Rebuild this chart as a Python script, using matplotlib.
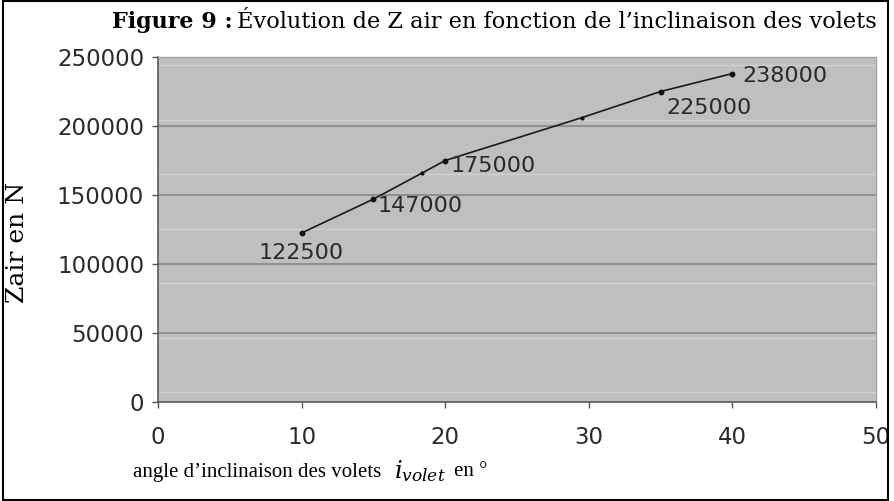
import matplotlib
matplotlib.use('Agg')
import matplotlib.pyplot as plt
from matplotlib.patches import Rectangle
import numpy as np

# data
angles = [10, 15, 18.4, 20, 29.5, 35, 40]
zair = [122500, 147000, 166000, 175000, 206000, 225000, 238000]
labelled = [True, True, False, True, False, True, True]
# label offsets in pixels (dx, dy, ha)
label_pos = {122500: (0, -20, 'center'), 147000: (4, -7, 'left'),
             175000: (5, -6, 'left'), 225000: (6, -17, 'left'),
             238000: (10, -2, 'left')}

xticks = [0, 10, 20, 30, 40, 50]
yticks = [0, 50000, 100000, 150000, 200000, 250000]

plt.rcParams['mathtext.fontset'] = 'dejavuserif'

fig = plt.figure(figsize=(8.94, 5.01), dpi=100)
ax = fig.add_axes([158/894, 1 - 402/501, (876 - 158)/894, (402 - 57)/501])
ax.set_facecolor('#bfbfbf')

# faint stripes seen in the scanned background
for yv in np.arange(7000, 250000, 39500):
    ax.axhline(yv, color='#d0d0d0', lw=1.0, zorder=0)
for yv in yticks[1:-1]:
    ax.axhline(yv, color='#8c8c8c', lw=1.3, zorder=1)

ax.plot(angles, zair, color='#1a1a1a', lw=1.2, zorder=3)
xs = [a for a, l in zip(angles, labelled) if l]
ys = [z for z, l in zip(zair, labelled) if l]
ax.plot(xs, ys, 'o', color='#111111', ms=3.2, zorder=4)
xs2 = [a for a, l in zip(angles, labelled) if not l]
ys2 = [z for z, l in zip(zair, labelled) if not l]
ax.plot(xs2, ys2, 'o', color='#111111', ms=2.0, zorder=4)

for a, z in zip(xs, ys):
    dx, dy, ha = label_pos[z]
    ax.annotate(str(z), (a, z), xytext=(dx, dy), textcoords='offset pixels',
                ha=ha, va='center', fontsize=16, color='#2a2a2a',
                family='DejaVu Sans', zorder=5)

ax.set_xlim(0, 50)
ax.set_ylim(0, 250000)
ax.set_xticks(xticks)
ax.set_yticks(yticks)
ax.tick_params(axis='both', labelsize=16.5, colors='#555555', labelcolor='#2a2a2a',
               length=4, width=1)
ax.tick_params(axis='x', pad=13)
ax.tick_params(axis='y', pad=6)
for lab in ax.get_xticklabels() + ax.get_yticklabels():
    lab.set_family('DejaVu Sans')

for s in ['left', 'bottom']:
    ax.spines[s].set_color('#5a5a5a')
    ax.spines[s].set_linewidth(1.2)
for s in ['top', 'right']:
    ax.spines[s].set_color('#a5a5a5')
    ax.spines[s].set_linewidth(1.0)

# titles and axis names as free text
fig.text(233/894, 1 - 22/501, 'Figure 9 :', fontsize=16, fontweight='bold',
         family='DejaVu Serif', va='center', ha='right')
fig.text(237/894, 1 - 22/501, 'Évolution de Z air en fonction de l’inclinaison des volets',
         fontsize=16.2, family='DejaVu Serif', va='center', ha='left')
fig.text(18/894, 1 - 242/501, 'Zair en N', rotation=90, fontsize=18,
         family='DejaVu Serif', va='center', ha='center')

# x axis name: plain text, then the math symbol, then the unit
fig.text(133/894, 1 - 472/501, 'angle d’inclinaison des volets',
         fontsize=15, family='Liberation Serif', va='center', ha='left')
fig.text(394/894, 1 - 471/501, r'$i_{volet}$', fontsize=17.5, va='center', ha='left')
fig.text(454/894, 1 - 472/501, 'en °', fontsize=15, family='Liberation Serif',
         va='center', ha='left')

fig.patches.append(Rectangle((3/894, 1/501), 885/894, 499/501, transform=fig.transFigure,
                             fill=False, edgecolor='black', lw=1.5))

plt.savefig('out.png', dpi=100)
plt.close()
